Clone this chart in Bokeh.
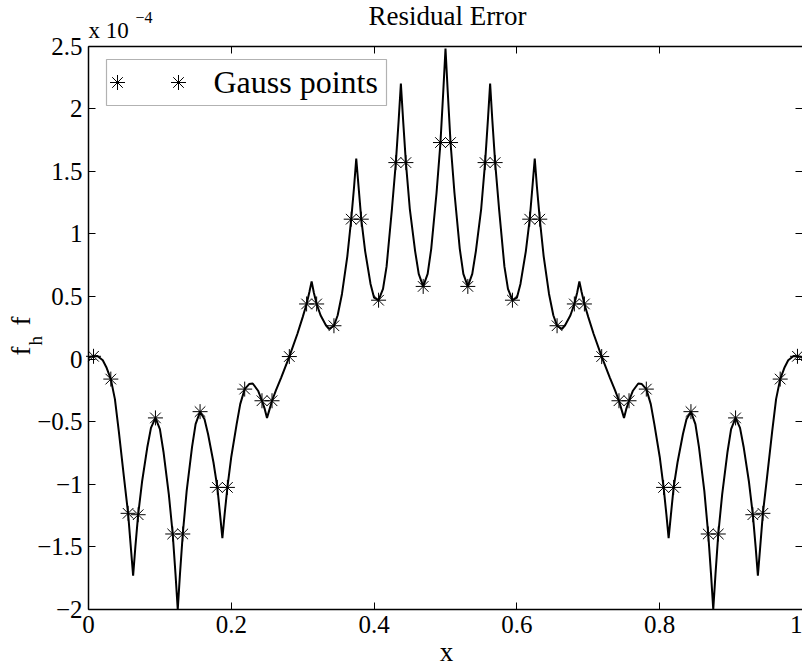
from math import pi
from bokeh.plotting import figure
from bokeh.models import Range1d, LinearAxis, FixedTicker, Label, BoxAnnotation, CustomJSTickFormatter
from bokeh.embed import file_html
from bokeh.resources import INLINE

# ---------------- data (values in units of 1e-4) ----------------
curve_x = [
    0.0, 0.00313, 0.00704, 0.0125, 0.02, 0.025, 0.03125, 0.037, 0.0425, 0.05, 0.05546, 0.05938,
    0.0625, 0.06563, 0.06954, 0.075, 0.0825, 0.0875, 0.09375, 0.1, 0.105, 0.1125, 0.11796, 0.12188,
    0.125, 0.12813, 0.13204, 0.1375, 0.145, 0.15, 0.15625, 0.1625, 0.1675, 0.175, 0.18046, 0.18438,
    0.1875, 0.19063, 0.19454, 0.2, 0.2075, 0.2125, 0.21875, 0.225, 0.23, 0.2375, 0.24296, 0.24688,
    0.25, 0.25313, 0.25704, 0.2625, 0.27, 0.28125, 0.2925, 0.3, 0.30546, 0.30938,
    0.3125, 0.31563, 0.31954, 0.325, 0.3325, 0.337, 0.34375, 0.349, 0.355, 0.3625, 0.36796, 0.37188,
    0.375, 0.37813, 0.38204, 0.3875, 0.395, 0.4, 0.40625, 0.4125, 0.4175, 0.425, 0.43046, 0.43438,
    0.4375, 0.44063, 0.44454, 0.45, 0.4575, 0.4625, 0.46875, 0.475, 0.48, 0.4875, 0.49296, 0.49688,
    0.5,
    0.50312, 0.50704, 0.5125, 0.52, 0.525, 0.53125, 0.5375, 0.5425, 0.55, 0.55546, 0.55937,
    0.5625, 0.56562, 0.56954, 0.575, 0.5825, 0.5875, 0.59375, 0.6, 0.605, 0.6125, 0.61796, 0.62187,
    0.625, 0.62812, 0.63204, 0.6375, 0.645, 0.651, 0.65625, 0.663, 0.6675, 0.675, 0.68046, 0.68437,
    0.6875, 0.69062, 0.69454, 0.7, 0.7075, 0.71875, 0.73, 0.7375, 0.74296, 0.74687,
    0.75, 0.75312, 0.75704, 0.7625, 0.77, 0.775, 0.78125, 0.7875, 0.7925, 0.8, 0.80546, 0.80937,
    0.8125, 0.81562, 0.81954, 0.825, 0.8325, 0.8375, 0.84375, 0.85, 0.855, 0.8625, 0.86796, 0.87187,
    0.875, 0.87812, 0.88204, 0.8875, 0.895, 0.9, 0.90625, 0.9125, 0.9175, 0.925, 0.93046, 0.93437,
    0.9375, 0.94062, 0.94454, 0.95, 0.9575, 0.963, 0.96875, 0.975, 0.98, 0.9875, 0.99296, 0.99687,
    1.0,
]
curve_y = [
    0.01, 0.019, 0.022, 0.024, -0.01, -0.065, -0.16, -0.32, -0.58, -0.96, -1.232, -1.51,
    -1.73, -1.50, -1.243, -0.98, -0.70, -0.55, -0.47, -0.56, -0.74, -1.08, -1.397, -1.72,
    -2.0, -1.716, -1.397, -1.052, -0.704, -0.52, -0.42, -0.48, -0.6, -0.824, -1.025, -1.248,
    -1.43, -1.24, -1.025, -0.78, -0.52, -0.36, -0.24, -0.2, -0.195, -0.253, -0.333, -0.40,
    -0.47, -0.41, -0.333, -0.25, -0.146, 0.02, 0.20, 0.335, 0.44, 0.535,
    0.62, 0.53, 0.44, 0.35, 0.27, 0.24, 0.266, 0.35, 0.52, 0.82, 1.117, 1.37,
    1.6, 1.384, 1.117, 0.86, 0.6, 0.49, 0.47, 0.56, 0.74, 1.2, 1.569, 1.905,
    2.2, 1.908, 1.569, 1.2, 0.86, 0.68, 0.58, 0.68, 0.88, 1.33, 1.729, 2.137,
    2.48,
    2.137, 1.729, 1.33, 0.88, 0.68, 0.58, 0.68, 0.86, 1.2, 1.569, 1.908,
    2.2, 1.905, 1.569, 1.2, 0.74, 0.56, 0.47, 0.49, 0.6, 0.86, 1.117, 1.384,
    1.6, 1.37, 1.117, 0.82, 0.52, 0.35, 0.266, 0.24, 0.27, 0.35, 0.44, 0.53,
    0.62, 0.535, 0.44, 0.335, 0.20, 0.02, -0.146, -0.25, -0.333, -0.41,
    -0.47, -0.40, -0.333, -0.253, -0.195, -0.2, -0.24, -0.36, -0.52, -0.78, -1.025, -1.24,
    -1.43, -1.248, -1.025, -0.824, -0.6, -0.48, -0.42, -0.52, -0.704, -1.052, -1.397, -1.716,
    -2.0, -1.72, -1.397, -1.08, -0.74, -0.56, -0.47, -0.55, -0.70, -0.98, -1.243, -1.50,
    -1.73, -1.51, -1.232, -0.96, -0.58, -0.32, -0.16, -0.065, -0.01, 0.024, 0.022, 0.019,
    0.01,
]
gauss_x = [
    0.00704, 0.03125, 0.05546, 0.06954, 0.09375, 0.11796, 0.13204, 0.15625, 0.18046,
    0.19454, 0.21875, 0.24296, 0.25704, 0.28125, 0.30546, 0.31954, 0.34375, 0.36796,
    0.38204, 0.40625, 0.43046, 0.44454, 0.46875, 0.49296, 0.50704, 0.53125, 0.55546,
    0.56954, 0.59375, 0.61796, 0.63204, 0.65625, 0.68046, 0.69454, 0.71875, 0.74296,
    0.75704, 0.78125, 0.80546, 0.81954, 0.84375, 0.86796, 0.88204, 0.90625, 0.93046,
    0.94454, 0.96875, 0.99296,
]
gauss_y = [
    0.022, -0.16, -1.232, -1.243, -0.47, -1.397, -1.397, -0.42, -1.025,
    -1.025, -0.24, -0.333, -0.333, 0.02, 0.44, 0.44, 0.266, 1.117,
    1.117, 0.47, 1.569, 1.569, 0.58, 1.729, 1.729, 0.58, 1.569,
    1.569, 0.47, 1.117, 1.117, 0.266, 0.44, 0.44, 0.02, -0.333,
    -0.333, -0.24, -1.025, -1.025, -0.42, -1.397, -1.397, -0.47, -1.243,
    -1.232, -0.16, 0.022,
]
x_ticks = [0, 0.2, 0.4, 0.6, 0.8, 1]
x_tick_labels = ["0", "0.2", "0.4", "0.6", "0.8", "1"]
y_ticks = [-2, -1.5, -1, -0.5, 0, 0.5, 1, 1.5, 2, 2.5]
y_tick_labels = ["\u22122", "\u22121.5", "\u22121", "\u22120.5", "0", "0.5", "1", "1.5", "2", "2.5"]

FONT = "Liberation Serif"
X_MIN, X_MAX = 0, 1
Y_MIN, Y_MAX = -2, 2.5

# The frame fills the whole canvas; the MATLAB-style axes box is drawn with
# fixed-location axes so that texts outside the box are not clipped.
W, H = 802, 666
LEFT_PX, TOP_PX, BOTTOM_PX = 88, 45.5, 609
sx = (W - LEFT_PX) / (X_MAX - X_MIN)
sy = (BOTTOM_PX - TOP_PX) / (Y_MAX - Y_MIN)
xr = Range1d(X_MIN - LEFT_PX / sx, X_MAX)
yr = Range1d(Y_MIN - (H - BOTTOM_PX) / sy, Y_MAX + TOP_PX / sy)

p = figure(width=W, height=H, x_range=xr, y_range=yr,
           output_backend="svg", toolbar_location=None, title=None,
           min_border=0, min_border_left=0, min_border_right=0,
           min_border_top=0, min_border_bottom=0,
           x_axis_location=None, y_axis_location=None,
           background_fill_color="white", border_fill_color="white")
p.outline_line_color = None
p.xgrid.visible = False
p.ygrid.visible = False


def make_axis(ticks, labels, loc, bounds, show_labels=True, show_line=True):
    ax = LinearAxis(ticker=FixedTicker(ticks=ticks), fixed_location=loc, bounds=bounds)
    ax.major_tick_in = 7
    ax.major_tick_out = 0
    ax.minor_tick_in = 0
    ax.minor_tick_out = 0
    ax.major_tick_line_color = "black"
    ax.major_tick_line_width = 1
    ax.axis_line_color = "black" if show_line else None
    ax.axis_line_width = 1.5
    ax.major_label_text_font = FONT
    ax.major_label_text_font_size = "25px"
    ax.major_label_text_color = "black"
    ax.major_label_standoff = 6
    if show_labels:
        ax.major_label_overrides = dict(zip(ticks, labels))
    else:
        ax.formatter = CustomJSTickFormatter(code="return '';")
        ax.major_label_text_font_size = "0px"
    return ax


p.add_layout(make_axis(x_ticks, x_tick_labels, Y_MIN, (X_MIN, X_MAX)), "below")
p.add_layout(make_axis(y_ticks, y_tick_labels, X_MIN, (Y_MIN, Y_MAX)), "left")
p.add_layout(make_axis(x_ticks, x_tick_labels, Y_MAX, (X_MIN, X_MAX), show_labels=False), "above")
p.add_layout(make_axis(y_ticks, y_tick_labels, X_MAX, (Y_MIN, Y_MAX), show_labels=False,
                       show_line=False), "right")

# curve and Gauss points
p.line(curve_x, curve_y, line_color="black", line_width=2)
p.scatter(gauss_x, gauss_y, marker="asterisk", size=15, line_color="black", line_width=1)


def ypx(py):
    return Y_MAX + TOP_PX / sy - py / sy


def xpx(px):
    return (px - LEFT_PX) / sx


BASE_SHIFT = 0.35  # measured offset of the label anchor relative to the baseline (in em)


def label(text, px, py, fs, align="left", rotated=False):
    if rotated:
        x, y = xpx(px - BASE_SHIFT * fs), ypx(py)
    else:
        x, y = xpx(px), ypx(py - BASE_SHIFT * fs)
    return Label(x=x, y=y, text=text, text_font=FONT, text_font_size=f"{fs}px",
                 text_color="black", text_align=align, text_baseline="alphabetic",
                 angle=pi / 2 if rotated else 0)


# legend (manual, MATLAB style)
legend_box = BoxAnnotation(left=xpx(106), right=xpx(386), top=ypx(59), bottom=ypx(105),
                           fill_color="white", fill_alpha=1.0, line_color="black",
                           line_width=1.2, level="underlay")
p.add_layout(legend_box)
leg = p.scatter([xpx(117), xpx(178)], [ypx(82), ypx(82)], marker="asterisk", size=15,
                line_color="black", line_width=1)
leg.level = "overlay"
p.add_layout(label("Gauss points", 213, 92.7, 32))

# title, exponent, axis labels
p.add_layout(label("Residual Error", 447, 25, 27, align="center"))
p.add_layout(label("x 10", 88, 38.5, 23))
p.add_layout(label("\u22124", 135, 23, 16))
p.add_layout(label("x", 446, 661, 27, align="center"))
# y label: f_h  f  (rotated)
p.add_layout(label("f", 30, 355, 27, rotated=True))
p.add_layout(label("h", 42, 345, 19, rotated=True))
p.add_layout(label("f", 30, 325, 27, rotated=True))

open("out.html", "w").write(file_html(p, INLINE))
